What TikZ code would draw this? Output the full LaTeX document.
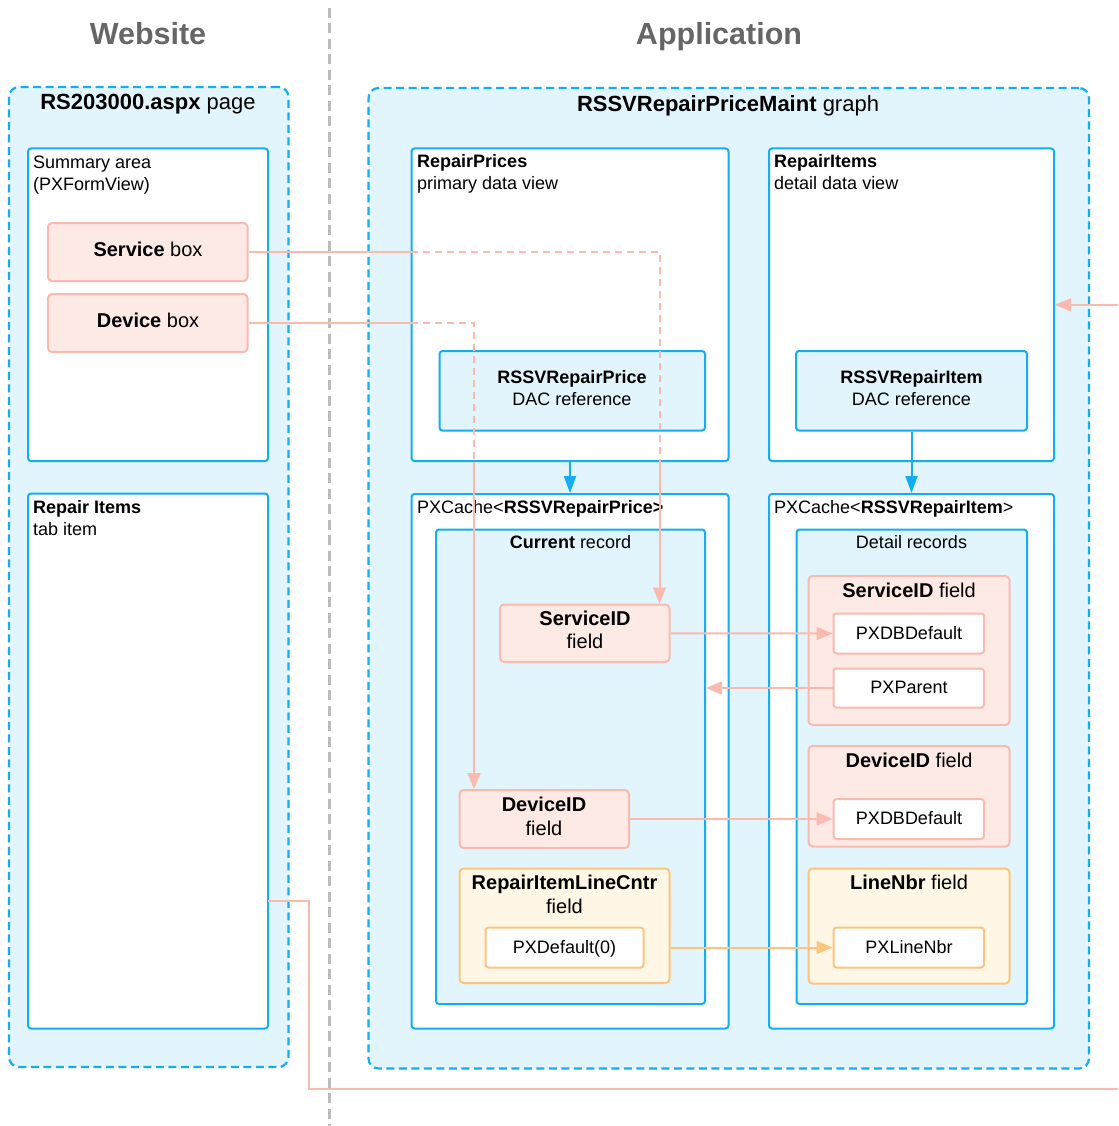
\documentclass[tikz,border=0pt]{standalone}
\usepackage{fontspec}
\setmainfont{Liberation Sans}
\usetikzlibrary{arrows.meta,fit,calc}

\definecolor{cyanline}{HTML}{14AEEF}
\definecolor{cyanfill}{HTML}{E2F5FD}
\definecolor{pinkline}{HTML}{F9BAB0}
\definecolor{pinkfill}{HTML}{FDEAE5}
\definecolor{amberline}{HTML}{FCC47C}
\definecolor{amberfill}{HTML}{FEF7E5}
\definecolor{titlegrey}{HTML}{666666}
\definecolor{divider}{HTML}{BBBBBB}

\tikzset{
  area/.style={fit={#1}, inner sep=0pt, draw=cyanline, line width=2.2pt,
    dash pattern=on 8pt off 4.5pt, fill=cyanfill, rounded corners=10pt},
  panel/.style={fit={#1}, inner sep=0pt, draw=cyanline, line width=2pt,
    fill=white, rounded corners=3pt},
  holder/.style={fit={#1}, inner sep=0pt, draw=cyanline, line width=2pt,
    fill=cyanfill, rounded corners=3pt},
  fieldbox/.style={fit={#1}, inner sep=0pt, draw=pinkline, line width=2pt,
    fill=pinkfill, rounded corners=4pt},
  attrbox/.style={fit={#1}, inner sep=0pt, draw=pinkline, line width=2pt,
    fill=white, rounded corners=3pt},
  counterbox/.style={fit={#1}, inner sep=0pt, draw=amberline, line width=2pt,
    fill=amberfill, rounded corners=4pt},
  counterattr/.style={fit={#1}, inner sep=0pt, draw=amberline, line width=2pt,
    fill=white, rounded corners=3pt},
  heading/.style={inner sep=0pt, anchor=base, text=titlegrey,
    font=\fontsize{30.5}{36}\selectfont\bfseries},
  grouplabel/.style={inner sep=0pt, anchor=base, font=\fontsize{22}{26}\selectfont},
  txt/.style={inner sep=0pt, anchor=base, font=\fontsize{18}{22}\selectfont},
  txtl/.style={txt, anchor=base west},
  fieldtxt/.style={inner sep=0pt, anchor=base, font=\fontsize{20}{24}\selectfont},
  pinkwire/.style={draw=pinkline, line width=2pt},
  pinkdash/.style={pinkwire, dash pattern=on 7pt off 5pt},
  pinkarrow/.style={-{Triangle[length=16pt,width=13pt]}},
  amberwire/.style={draw=amberline, line width=2pt, -{Triangle[length=16pt,width=13pt]}},
  cyanwire/.style={draw=cyanline, line width=2pt, -{Triangle[length=17pt,width=12pt]}},
}

\begin{document}
\begin{tikzpicture}[x=1pt,y=-1pt]
\useasboundingbox (0,0) rectangle (1118,1126);

% separator between the two sides
\coordinate (divtop) at (329,8);
\coordinate (divbot) at (329,1126);
\draw[divider, line width=3pt, dash pattern=on 10pt off 5.5pt] (divtop) -- (divbot);

\node[heading] (tweb) at (148,45) {Website};
\node[heading] (tapp) at (719,45) {Application};

% outer containers
\node[area={(9,87) (288.5,1067)}] (site) {};
\node[area={(368.5,88) (1089,1068.5)}] (app) {};
\node[grouplabel] (sitettl) at (148,110) {\textbf{RS203000.aspx} page};
\node[grouplabel] (appttl) at (728,112) {\textbf{RSSVRepairPriceMaint} graph};

% ---- web page ----
\node[panel={(28,148.5) (268,461)}] (summary) {};
\node[txtl] (sumA) at (33,168) {Summary area};
\node[txtl] (sumB) at (33,190) {(PXFormView)};
\node[fieldbox={(48,223) (247.5,281)}] (svcbox) {};
\node[fieldtxt] (svctxt) at (148,256.5) {\textbf{Service} box};
\node[fieldbox={(48,294) (247.5,352)}] (devbox) {};
\node[fieldtxt] (devtxt) at (148,327) {\textbf{Device} box};

\node[panel={(28,493.5) (268,1028.5)}] (ritab) {};
\node[txtl] (tabA) at (33,513) {\textbf{Repair Items}};
\node[txtl] (tabB) at (33,535) {tab item};

% ---- data views ----
\node[panel={(411.5,148.5) (728.5,461)}] (rp) {};
\node[txtl] (rpA) at (417,167.5) {\textbf{RepairPrices}};
\node[txtl] (rpB) at (417,189.5) {primary data view};
\node[holder={(439.5,351) (705,430.5)}] (rpdac) {};
\node[txt] (rpdacA) at (572,383.5) {\textbf{RSSVRepairPrice}};
\node[txt] (rpdacB) at (572,405.5) {DAC reference};

\node[panel={(769,148.5) (1054,461)}] (ri) {};
\node[txtl] (riA) at (774,167.5) {\textbf{RepairItems}};
\node[txtl] (riB) at (774,189.5) {detail data view};
\node[holder={(796,351) (1027,430.5)}] (ridac) {};
\node[txt] (ridacA) at (911.5,383.5) {\textbf{RSSVRepairItem}};
\node[txt] (ridacB) at (911.5,405.5) {DAC reference};

% ---- caches ----
\node[panel={(411.5,494) (728.5,1028.5)}] (rpcache) {};
\node[txtl] (rpcacheT) at (417,513) {PXCache<\textbf{RSSVRepairPrice>}};
\node[holder={(436,529.5) (705,1004)}] (current) {};
\node[txt] (currentT) at (570.5,548) {\textbf{Current} record};

\node[fieldbox={(500,604.5) (669.5,662)}] (sid) {};
\node[fieldtxt] (sidA) at (585,625) {\textbf{ServiceID}};
\node[fieldtxt] (sidB) at (585,648.5) {field};

\node[fieldbox={(459.5,790) (629,848)}] (did) {};
\node[fieldtxt] (didA) at (544,811) {\textbf{DeviceID}};
\node[fieldtxt] (didB) at (544,835) {field};

\node[counterbox={(459.5,868.5) (669.5,983)}] (linecntr) {};
\node[fieldtxt] (lcA) at (564.5,889.5) {\textbf{RepairItemLineCntr}};
\node[fieldtxt] (lcB) at (564.5,913.5) {field};
\node[counterattr={(485.5,927.5) (643.5,967.5)}] (pxdef) {};
\node[txt] (pxdefT) at (564.5,953) {PXDefault(0)};

\node[panel={(769,494) (1054,1028.5)}] (ricache) {};
\node[txtl] (ricacheT) at (774,513) {PXCache<\textbf{RSSVRepairItem}>};
\node[holder={(796.5,529.5) (1027,1004)}] (detail) {};
\node[txt] (detailT) at (911.5,548) {Detail records};

\node[fieldbox={(808.5,576) (1009.5,725)}] (dsid) {};
\node[fieldtxt] (dsidT) at (909,597) {\textbf{ServiceID} field};
\node[attrbox={(833.5,613.5) (984,653.5)}] (dbdefA) {};
\node[txt] (dbdefAT) at (909,639) {PXDBDefault};
\node[attrbox={(833.5,668.5) (984,707.5)}] (parent) {};
\node[txt] (parentT) at (909,693.5) {PXParent};

\node[fieldbox={(808.5,746) (1009.5,846.5)}] (ddid) {};
\node[fieldtxt] (ddidT) at (909,767) {\textbf{DeviceID} field};
\node[attrbox={(833.5,799) (984,839)}] (dbdefB) {};
\node[txt] (dbdefBT) at (909,824.5) {PXDBDefault};

\node[counterbox={(808.5,868.5) (1009.5,983.5)}] (lnbr) {};
\node[fieldtxt] (lnbrT) at (909,889.5) {\textbf{LineNbr} field};
\node[counterattr={(833.5,927.5) (984,967.5)}] (pxlnbr) {};
\node[txt] (pxlnbrT) at (909,953) {PXLineNbr};

% ---- connectors ----
\draw[cyanwire] (rp.south) -- (rpcache.north);
\draw[cyanwire] (ridac.south) -- (ricache.north);

\coordinate (sidin) at ($(sid.north east)+(-11,0)$);
\coordinate (didin) at ($(did.north west)+(15.5,0)$);

\draw[pinkwire] (svcbox.east) -- (svcbox.east -| rp.west);
\draw[pinkdash] (svcbox.east -| rp.west) -- (svcbox.east -| sidin) -- (sidin |- rp.south);
\draw[pinkwire, pinkarrow] (sidin |- rp.south) -- (sidin);

\draw[pinkwire] (devbox.east) -- (devbox.east -| rp.west);
\draw[pinkdash] (devbox.east -| rp.west) -- (devbox.east -| didin) -- (didin |- rp.south);
\draw[pinkwire, pinkarrow] (didin |- rp.south) -- (didin);

\draw[pinkwire, pinkarrow] (sid.east) -- (dbdefA.west);
\draw[pinkwire, pinkarrow] (parent.west) -- (parent.west -| current.east);
\draw[pinkwire, pinkarrow] (did.east) -- (dbdefB.west);
\draw[amberwire] (pxdef.east -| linecntr.east) -- (pxlnbr.west);

% tab item feeds the detail view, routed round the outside
\coordinate (tabout) at (268,900.7);
\coordinate (routeA) at (308.5,1089);
\coordinate (routeB) at (1150,1089);
\begin{scope}
  \clip (0,0) rectangle (1118,1126);
  \draw[pinkwire, pinkarrow] (tabout) -| (routeA) -- (routeB) |- (ri.east);
\end{scope}
\end{tikzpicture}
\end{document}
